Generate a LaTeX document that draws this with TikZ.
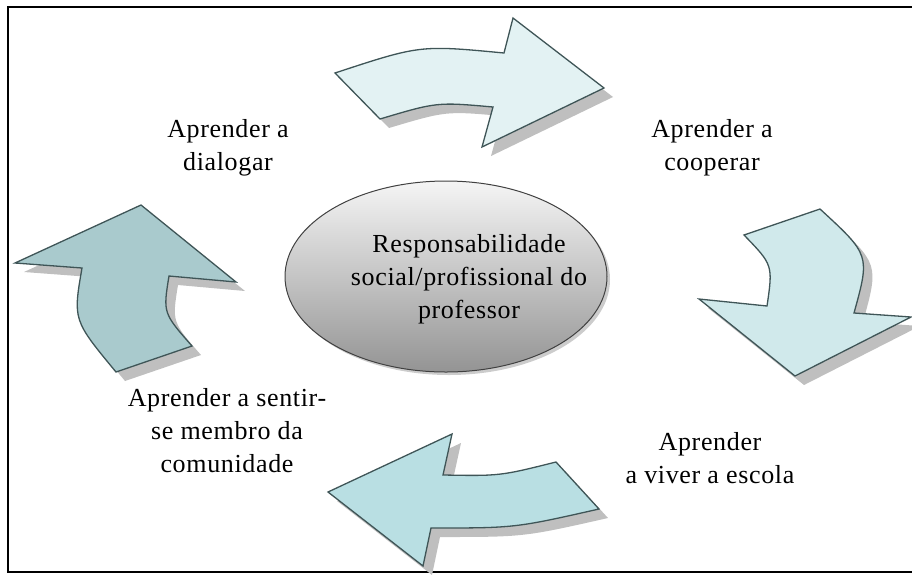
\documentclass[tikz,border=0pt]{standalone}
\usepackage{fontspec}
\setmainfont{Liberation Serif}[LetterSpace=2.5]
\usepackage{tikz}
\usetikzlibrary{shapes.geometric,shadows}
\definecolor{contorno}{HTML}{3F5557}
\definecolor{setaum}{HTML}{E3F2F3}
\definecolor{setadois}{HTML}{D0E9EB}
\definecolor{setatres}{HTML}{B9DFE3}
\definecolor{setaquatro}{HTML}{A9CACD}

\begin{document}
\begin{tikzpicture}[x=1pt,y=-1pt,
        seta/.style={draw=contorno,line width=1.3pt,line join=miter,
            drop shadow={shadow xshift=9pt,shadow yshift=-9pt,opacity=1,fill=black!25}},
        rotulo/.style={align=center,inner sep=0pt,font=\fontsize{26}{33}\selectfont}]
            \useasboundingbox (0,0) rectangle (912,574);
            \draw[line width=1.6pt] (8,7) rectangle (920,572);
            \draw[seta,fill=setaum] (335,73) .. controls (420,45) .. (504,53) -- (513,18) -- (604,88)
                -- (482,147) -- (493,107) .. controls (437,102) .. (380,119) -- cycle;
            \draw[seta,fill=setadois] (744,235) -- (820,209) .. controls (870,255) .. (854,313) -- (911,317)
                -- (795,376) -- (699,299) -- (767,306) .. controls (773,265) .. (744,235) -- cycle;
            \draw[seta,fill=setatres] (556,462) -- (599,509) .. controls (515,528) .. (431,528) -- (423,566)
                -- (328,492) -- (452,434) -- (443,475) .. controls (500,476) .. (556,462) -- cycle;
            \draw[seta,fill=setaquatro] (116,372) -- (192,346) .. controls (163,313) .. (169,276) -- (236,282)
                -- (141,205) -- (15,263) -- (82,268) .. controls (73,320) .. (116,372) -- cycle;
            \node[ellipse,draw=black!75,line width=1pt,minimum width=322pt,minimum height=191pt,
                top color=black!4,bottom color=black!42,
                drop shadow={shadow xshift=3pt,shadow yshift=-3pt,opacity=1,fill=black!20}] (resp) at (446,276.5) {};
            \node[rotulo] (centro) at (469,279) {Responsabilidade\\social/profissional do\\professor};
            \node[rotulo] (dialogar) at (228,147.5) {Aprender a\\dialogar};
            \node[rotulo] (cooperar) at (712,147.5) {Aprender a\\cooperar};
            \node[rotulo] (escola) at (710,458) {Aprender\\a viver a escola};
            \node[rotulo] (comunidade) at (227,430.5) {Aprender a sentir-\\se membro da\\comunidade};
        \end{tikzpicture}
\end{document}
